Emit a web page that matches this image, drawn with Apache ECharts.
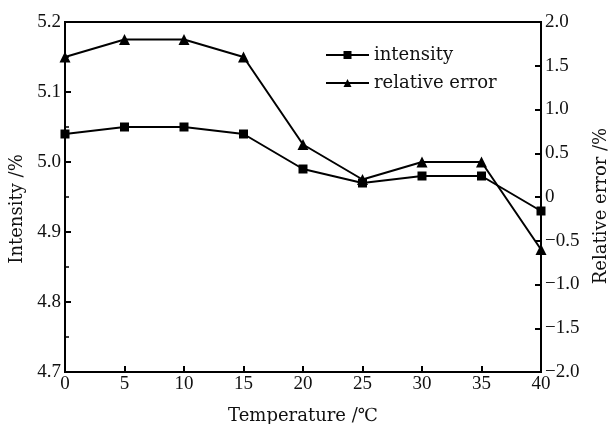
<!DOCTYPE html>
<html><head><meta charset="utf-8">
<script src="https://cdn.jsdelivr.net/npm/echarts@6/dist/echarts.min.js"></script>
<style>html,body{margin:0;padding:0;background:#fff}#c{width:609px;height:424px}</style>
</head><body><div id="c"></div>
<script>
const temperatures = [0, 5, 10, 15, 20, 25, 30, 35, 40];
const intensity = [5.04, 5.05, 5.05, 5.04, 4.99, 4.97, 4.98, 4.98, 4.93];
const relativeError = [1.6, 1.8, 1.8, 1.6, 0.6, 0.2, 0.4, 0.4, -0.6];
const leftTicks = [4.7, 4.8, 4.9, 5.0, 5.1, 5.2];
const rightTicks = [-2.0, -1.5, -1.0, -0.5, 0, 0.5, 1.0, 1.5, 2.0];

const NUMFONT = '"Liberation Serif", "DejaVu Serif", serif';
const TXTFONT = '"DejaVu Serif", "Liberation Serif", serif';
const chart = echarts.init(document.getElementById('c'), null, {renderer: 'canvas'});
const num = {color: '#111', fontFamily: NUMFONT, fontSize: 19};
const txt = {color: '#111', fontFamily: TXTFONT, fontSize: 18};
const fmtRight = v => (v < 0 ? '\u2212' : '') + (v === 0 ? '0' : Math.abs(v).toFixed(1));

chart.setOption({
  animation: false,
  backgroundColor: '#fff',
  grid: {left: 65, right: 68, top: 22, bottom: 52, outerBoundsMode: 'none', containLabel: false,
         show: true, borderColor: '#000', borderWidth: 2, backgroundColor: 'transparent'},
  legend: {
    orient: 'vertical', left: 325, top: 46, padding: 0, itemWidth: 43, itemHeight: 10, itemGap: 10,
    textStyle: txt,
    data: ['intensity', 'relative error']
  },
  xAxis: {
    type: 'value', min: 0, max: 40, interval: 5,
    name: 'Temperature /\u2103', nameLocation: 'middle', nameGap: 35,
    nameTextStyle: txt,
    axisLine: {show: true, onZero: false, lineStyle: {color: '#000', width: 2}},
    axisTick: {show: true, inside: true, length: 6, lineStyle: {color: '#000', width: 2}},
    axisLabel: Object.assign({margin: 3}, num),
    splitLine: {show: false}
  },
  yAxis: [{
    type: 'value', min: 4.7, max: 5.2, interval: 0.1, position: 'left',
    name: 'Intensity /%', nameLocation: 'middle', nameGap: 34, nameRotate: 90,
    nameTextStyle: Object.assign({padding: [0, 24, 0, 0]}, txt),
    axisLine: {show: true, onZero: false, lineStyle: {color: '#000', width: 2}},
    axisTick: {show: true, inside: true, length: 6, lineStyle: {color: '#000', width: 2}},
    minorTick: {show: true, splitNumber: 2, length: 4, lineStyle: {color: '#000', width: 1.5}},
    axisLabel: Object.assign({margin: 4, formatter: v => v.toFixed(1)}, num),
    splitLine: {show: false}
  }, {
    type: 'value', min: -2, max: 2, interval: 0.5, position: 'right',
    name: 'Relative error /%', nameLocation: 'middle', nameGap: 51, nameRotate: 90,
    nameTextStyle: Object.assign({padding: [0, 18, 0, 0]}, txt),
    axisLine: {show: true, onZero: false, lineStyle: {color: '#000', width: 2}},
    axisTick: {show: true, inside: true, length: 6, lineStyle: {color: '#000', width: 2}},
    axisLabel: Object.assign({margin: 4, formatter: fmtRight}, num),
    splitLine: {show: false}
  }],
  series: [{
    name: 'intensity', type: 'line', yAxisIndex: 0,
    data: temperatures.map((t, i) => [t, intensity[i]]),
    symbol: 'rect', symbolSize: 9,
    lineStyle: {color: '#000', width: 2}, itemStyle: {color: '#000'}
  }, {
    name: 'relative error', type: 'line', yAxisIndex: 1,
    data: temperatures.map((t, i) => [t, relativeError[i]]),
    symbol: 'triangle', symbolSize: 11,
    lineStyle: {color: '#000', width: 2}, itemStyle: {color: '#000'}
  }]
});
</script></body></html>
